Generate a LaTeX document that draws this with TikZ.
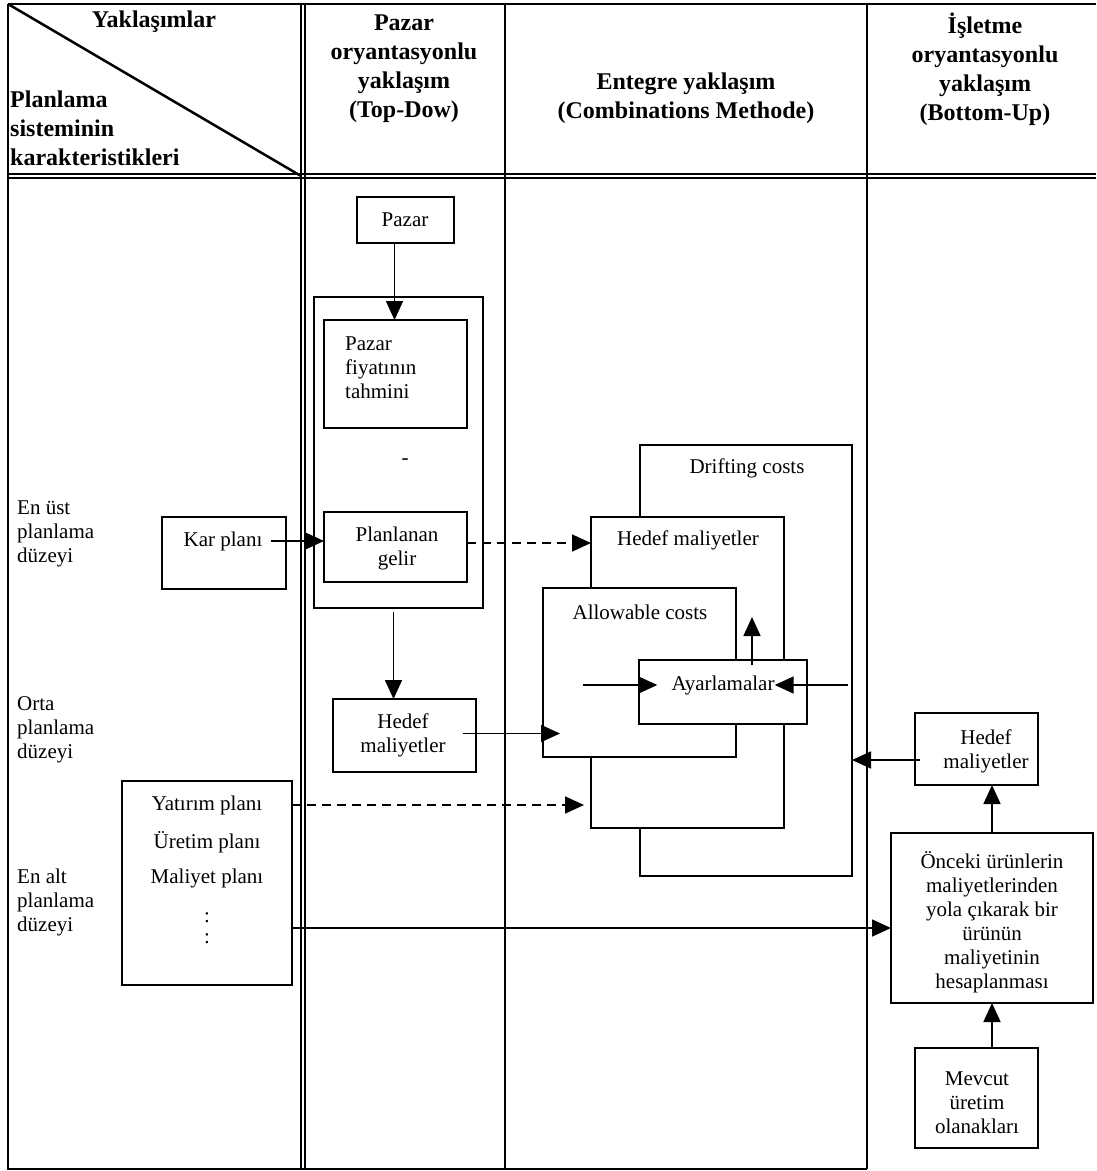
\documentclass[tikz,border=0pt]{standalone}
\usepackage{fontspec}
\setmainfont{Liberation Serif}
\usetikzlibrary{arrows.meta,calc}
% box given by its corners: name, x1, y1, x2, y2 (y grows downward)
\newcommand\bx[5]{\node[box, minimum width={#4-#2}, minimum height={#5-#3}] (#1) at (#2,#3) {};}
\begin{document}
\begin{tikzpicture}[x=1pt,y=-1pt,
  rule/.style={line width=1.5pt},
  box/.style={draw, line width=1.8pt, fill=white, inner sep=0pt, outer sep=0pt, anchor=north west},
  body/.style={font=\fontsize{21}{24}\selectfont, align=center, inner sep=0pt},
  head/.style={font=\fontsize{24}{29}\selectfont\bfseries, align=center, inner sep=0pt},
  arr/.style={-{Triangle[length=19pt,width=17pt]}, line width=1.7pt},
  dsh/.style={dash pattern=on 9pt off 6pt},
]
\useasboundingbox (0,0) rectangle (1096,1171);

% table frame
\draw[line width=2.5pt] (8,4) -- (1096,4);
\draw[rule] (8,4) -- (8,1169) -- (867,1169);
\draw[rule] (301,4) -- (301,1169);
\draw[rule] (305,4) -- (305,1169);
\draw[rule] (505,4) -- (505,1169);
\draw[rule] (867,4) -- (867,1169);
\draw[line width=1.2pt] (8,174) -- (1096,174);
\draw[line width=1.6pt] (8,178) -- (1096,178);
\draw[line width=2.5pt] (8,4) -- (301,176);

% header
\node[head] (hYak) at (154,22) {Yaklaşımlar};
\node[head, align=left, anchor=west] (hPlan) at (10,128) {Planlama\\sisteminin\\karakteristikleri};
\node[head] (hPazar) at (404,69) {Pazar\\oryantasyonlu\\yaklaşım\\(Top-Dow)};
\node[head] (hEnt) at (686,98) {Entegre yaklaşım\\(Combinations Methode)};
\node[head] (hIsl) at (985,69) {İşletme\\oryantasyonlu\\yaklaşım\\(Bottom-Up)};

% planning levels
\node[body, align=left, anchor=west] (lUst) at (17,534) {En üst\\planlama\\düzeyi};
\node[body, align=left, anchor=west] (lOrta) at (17,730) {Orta\\planlama\\düzeyi};
\node[body, align=left, anchor=west] (lAlt) at (17,902) {En alt\\planlama\\düzeyi};

% left column boxes
\bx{kar}{162}{517}{286}{589}
\node[body] (karT) at (223,541) {Kar planı};
\bx{yatBox}{122}{781}{292}{985}
\node[body] (yatT) at (207,805) {Yatırım planı};
\node[body] (uretT) at (207,842) {Üretim planı};
\node[body] (malT) at (207,878) {Maliyet planı};
\node[body, font=\fontsize{21}{21}\selectfont] (dots) at (207,928) {:\\:};

% market oriented column
\bx{pazar}{357}{197}{454}{243}
\node[body] (pazarT) at (405,220) {Pazar};
\bx{mk}{314}{297}{483}{608}
\bx{fiyat}{324}{320}{467}{428}
\node[body, align=left, anchor=west] (fiyatT) at (345,368) {Pazar\\fiyatının\\tahmini};
\node[body] (mid) at (405,462) {-};
\bx{plan}{324}{512}{467}{582}
\node[body] (planT) at (397,548) {Planlanan\\gelir};
\bx{hedef1}{333}{699}{476}{772}
\node[body] (hedef1T) at (403,735) {Hedef\\maliyetler};

% integrated column, back to front
\bx{drift}{640}{445}{852}{876}
\node[body] (driftT) at (747,468) {Drifting costs};
\bx{hm2}{591}{517}{784}{828}
\node[body] (hm2T) at (688,540) {Hedef maliyetler};
\bx{allow}{543}{588}{736}{757}
\node[body] (allowT) at (640,612) {Allowable costs};
\bx{ayar}{639}{660}{807}{724}
\node[body] (ayT) at (723,685) {Ayarlamalar};

% bottom-up column
\bx{rhm}{915}{713}{1038}{785}
\node[body] (rhmT) at (986,751) {Hedef\\maliyetler};
\bx{onc}{891}{833}{1093}{1003}
\node[body] (oncT) at (992,922) {Önceki ürünlerin\\maliyetlerinden\\yola çıkarak bir\\ürünün\\maliyetinin\\hesaplanması};
\bx{mev}{915}{1048}{1038}{1148}
\node[body] (mevT) at (977,1103) {Mevcut\\üretim\\olanakları};

% connectors
\draw[arr] ($(karT.east)+(8,0)$) -- (karT.east -| plan.west);
\draw[arr] ($(pazar.south)+(-11,0)$) -- ($(pazar.south |- fiyat.north)+(-11,0)$);
\draw[arr] ($(mk.south)+(-5,4)$) -- ($(mk.south |- hedef1.north)+(-5,0)$);
\coordinate (pOut) at ($(plan.east)+(0,-4)$);
\draw[arr, dsh] (pOut) -- (pOut -| hm2.west);
\draw[arr] ($(hedef1.east)+(-13,-2)$) -- ($(hedef1.east -| allow.west)+(17,-2)$);
\draw[arr, dsh] (yatBox.east |- yatT.east) -- ($(yatT.east -| hm2.west)+(-7,0)$);
\draw[arr] (yatBox.east |- dots.center) -- (dots.center -| onc.west);
\coordinate (ayIn) at (583,685);
\draw[arr] (ayIn) -- ($(ayT.west)+(-14,0)$);
\coordinate (ayOut) at (848,685);
\draw[arr] (ayOut) -- (ayT.east);
\coordinate (ayUp) at (752,617);
\draw[arr] ($(ayUp |- ayar.north)+(0,5)$) -- (ayUp);
\coordinate (rIn) at ($(rhm.west)+(5,11)$);
\draw[arr] (rIn) -- (rIn -| drift.east);
\draw[arr] (onc.north) -- (onc.north |- rhm.south);
\draw[arr] (mev.north -| onc.north) -- (onc.south);
\end{tikzpicture}
\end{document}
